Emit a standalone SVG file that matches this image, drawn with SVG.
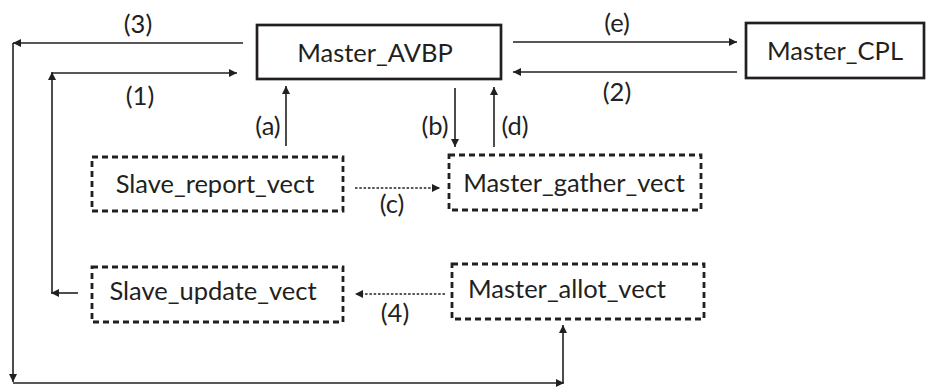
<svg xmlns="http://www.w3.org/2000/svg" width="927" height="387" viewBox="0 0 927 387">
<style>
text{font-family:Lato,"Open Sans","DejaVu Sans",sans-serif;font-size:25.5px;fill:#231f20;text-anchor:middle}
.solid{fill:#fff;stroke:#231f20;stroke-width:2.7}
.dash{fill:#fff;stroke:#231f20;stroke-width:2.8;stroke-dasharray:6 4}
.ln{fill:none;stroke:#231f20;stroke-width:1.6;marker-end:url(#ah)}
.dot{fill:none;stroke:#231f20;stroke-width:1.4;stroke-dasharray:2.5 1.8;marker-end:url(#ah)}
</style>
<defs>
<marker id="ah" viewBox="0 0 10 10" refX="10" refY="5" markerWidth="10" markerHeight="8" markerUnits="userSpaceOnUse" orient="auto">
<path d="M0,0 L10,5 L0,10 z" fill="#231f20"/>
</marker>
</defs>
<rect width="927" height="387" fill="#fff"/>
<g id="connectors">
<line class="ln" x1="513" y1="42" x2="737" y2="42"/>
<line class="ln" x1="737" y1="72" x2="513" y2="72"/>
<line class="ln" x1="243" y1="43" x2="13" y2="43"/>
<line class="ln" x1="13" y1="43" x2="13" y2="382"/>
<line class="ln" x1="13" y1="383" x2="564" y2="383"/>
<line class="ln" x1="563" y1="383" x2="563" y2="325"/>
<line class="ln" x1="78" y1="293" x2="51" y2="293"/>
<line class="ln" x1="52" y1="293" x2="52" y2="72"/>
<line class="ln" x1="52" y1="73" x2="237" y2="73"/>
<line class="ln" x1="286" y1="146" x2="286" y2="86"/>
<line class="ln" x1="455" y1="88" x2="455" y2="147"/>
<line class="ln" x1="494" y1="147" x2="494" y2="87"/>
<line class="dot" x1="355" y1="188" x2="440" y2="188"/>
<line class="dot" x1="445" y1="294" x2="355" y2="294"/>
<text x="617" y="32">(e)</text>
<text x="617" y="101">(2)</text>
<text x="138" y="33">(3)</text>
<text x="140" y="105">(1)</text>
<text x="268" y="135">(a)</text>
<text x="435" y="135">(b)</text>
<text x="515" y="135">(d)</text>
<text x="392" y="213">(c)</text>
<text x="395" y="322">(4)</text>
</g>
<g id="master_avbp">
<rect class="solid" x="257" y="25" width="244" height="54"/>
<text x="375" y="62">Master_AVBP</text>
</g>
<g id="master_cpl">
<rect class="solid" x="746" y="23" width="178" height="55"/>
<text x="835" y="60">Master_CPL</text>
</g>
<g id="slave_report_vect">
<rect class="dash" x="92" y="157" width="251" height="54"/>
<text x="215" y="193">Slave_report_vect</text>
</g>
<g id="master_gather_vect">
<rect class="dash" x="449" y="155" width="252" height="55"/>
<text x="574" y="192">Master_gather_vect</text>
</g>
<g id="slave_update_vect">
<rect class="dash" x="92" y="267" width="251" height="55"/>
<text x="213" y="300">Slave_update_vect</text>
</g>
<g id="master_allot_vect">
<rect class="dash" x="452" y="264" width="252" height="55"/>
<text x="567" y="298">Master_allot_vect</text>
</g>
</svg>
